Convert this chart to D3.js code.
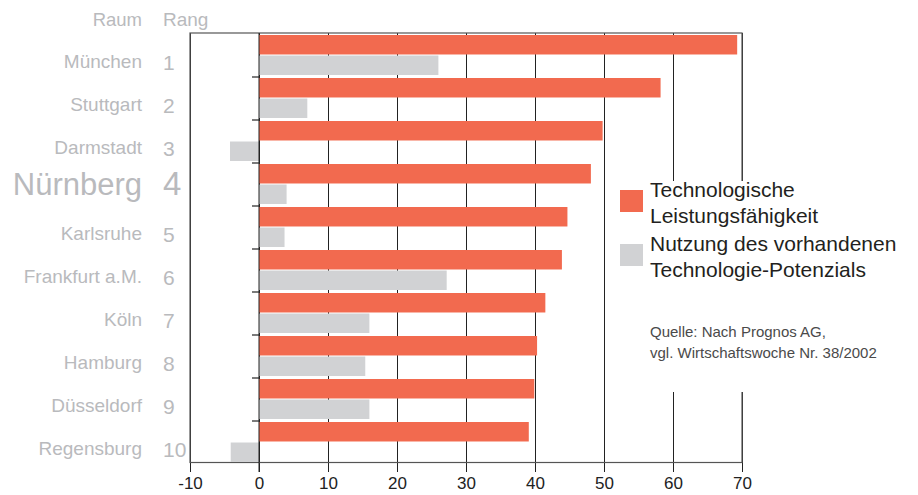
<!DOCTYPE html>
<html>
<head>
<meta charset="utf-8">
<script src="https://cdn.jsdelivr.net/npm/d3@7"></script>
<style>
  body { margin: 0; background: #fff; }
  text { font-family: "Liberation Sans", Arial, Helvetica, sans-serif; }
</style>
</head>
<body>
<script>
// data
const cities = ['München', 'Stuttgart', 'Darmstadt', 'Nürnberg', 'Karlsruhe',
    'Frankfurt a.M.', 'Köln', 'Hamburg', 'Düsseldorf', 'Regensburg'];
const ranks = ['1', '2', '3', '4', '5', '6', '7', '8', '9', '10'];
const leistung = [69.3, 58.2, 49.8, 48.1, 44.7, 43.9, 41.5, 40.3, 39.9, 39.1];
const nutzung = [26.0, 7.0, -4.2, 4.0, 3.7, 27.2, 16.0, 15.4, 16.0, -4.1];
const xTicks = [-10, 0, 10, 20, 30, 40, 50, 60, 70];
const seriesNames = ['Technologische Leistungsfähigkeit', 'Nutzung des vorhandenen Technologie-Potenzials'];
const highlight = 'Nürnberg';

const w = 918, h = 495;
const colors = ['#f26a4f', '#d1d2d4'];
const labelGray = '#b9babd';

let svg = d3.select('body').append('svg')
    .attr('width', w)
    .attr('height', h);

let x = d3.scaleLinear().domain([-10, 70]).range([190, 742]);
let y = d3.scaleBand().domain(cities).range([34, 464]);
let ySub = d3.scaleBand().domain([0, 1]).range([1, 41]).paddingInner(0.05);

const yTop = 33, yBottom = 462.5;

// grid lines through the x axis ticks
let xAxis = svg.append('g')
    .attr('transform', 'translate(0,472)')
    .call(d3.axisBottom(x).tickValues(xTicks).tickFormat(d => String(d))
        .tickSize(-(472 - yTop)).tickPadding(5));
xAxis.select('.domain').remove();
xAxis.selectAll('.tick line').attr('stroke', '#222').attr('stroke-width', 1);
xAxis.selectAll('.tick text')
    .attr('font-size', 17)
    .attr('fill', '#222')
    .attr('font-family', '"Liberation Sans", Arial, sans-serif');

// frame
svg.append('rect')
    .attr('x', x(-10)).attr('y', yTop)
    .attr('width', x(70) - x(-10)).attr('height', yBottom - yTop)
    .attr('fill', 'none').attr('stroke', '#555').attr('stroke-width', 1.2);

// white space behind the legend cuts the lines
svg.append('rect')
    .attr('x', 612).attr('y', 181)
    .attr('width', w - 612).attr('height', 392 - 181)
    .attr('fill', '#fff');

// bars
let rows = cities.map((c, i) => ({ city: c, vals: [leistung[i], nutzung[i]] }));
let groups = svg.append('g').selectAll('g').data(rows).enter().append('g')
    .attr('transform', d => 'translate(0,' + y(d.city) + ')');
groups.selectAll('rect').data(d => d.vals).enter().append('rect')
    .attr('x', d => x(Math.min(0, d)))
    .attr('y', (d, i) => ySub(i))
    .attr('width', d => Math.abs(x(d) - x(0)))
    .attr('height', ySub.bandwidth())
    .attr('fill', (d, i) => colors[i]);

// small ticks on the zero line between groups
svg.append('g').selectAll('line').data(cities.slice(1)).enter().append('line')
    .attr('x1', x(0) - 7).attr('x2', x(0))
    .attr('y1', d => y(d)).attr('y2', d => y(d))
    .attr('stroke', '#222').attr('stroke-width', 1.2);

// zero line on top
svg.append('line')
    .attr('x1', x(0)).attr('x2', x(0)).attr('y1', yTop).attr('y2', 472)
    .attr('stroke', '#222').attr('stroke-width', 1);

// row labels
let labels = svg.append('g');
labels.selectAll('text.city').data(cities).enter().append('text')
    .attr('class', 'city')
    .attr('x', 142)
    .attr('y', d => y(d) + y.bandwidth() / 2 + (d === highlight ? 10.5 : 12))
    .attr('text-anchor', 'end')
    .attr('font-size', d => d === highlight ? 31 : 19)
    .attr('fill', labelGray)
    .text(d => d);
labels.selectAll('text.rank').data(ranks).enter().append('text')
    .attr('class', 'rank')
    .attr('x', 163)
    .attr('y', (d, i) => y(cities[i]) + y.bandwidth() / 2 + (cities[i] === highlight ? 10.5 : 14))
    .attr('font-size', (d, i) => cities[i] === highlight ? 33 : 21)
    .attr('fill', labelGray)
    .text(d => d);

// column heads
svg.append('text').attr('x', 142).attr('y', 26).attr('text-anchor', 'end')
    .attr('font-size', 18.5).attr('fill', labelGray).text('Raum');
svg.append('text').attr('x', 163).attr('y', 26)
    .attr('font-size', 19).attr('fill', labelGray).text('Rang');

// legend
let legendLines = [['Technologische', 'Leistungsfähigkeit'], ['Nutzung des vorhandenen', 'Technologie-Potenzials']];
let legend = svg.append('g').selectAll('g').data(seriesNames).enter().append('g')
    .attr('transform', (d, i) => 'translate(620,' + (190 + i * 54) + ')');
legend.append('rect')
    .attr('width', 23).attr('height', 22)
    .attr('fill', (d, i) => colors[i]);
legend.each(function (d, i) {
    d3.select(this).selectAll('text').data(legendLines[i]).enter().append('text')
        .attr('x', 30)
        .attr('y', (t, j) => 7 + j * 26)
        .attr('font-size', 21)
        .attr('fill', '#231f20')
        .text(t => t);
});

// source
let source = ['Quelle: Nach Prognos AG,', 'vgl. Wirtschaftswoche Nr. 38/2002'];
svg.append('g').selectAll('text').data(source).enter().append('text')
    .attr('x', 650)
    .attr('y', (d, i) => 337 + i * 21)
    .attr('font-size', 15)
    .attr('fill', '#4a4a4a')
    .text(d => d);
</script>
</body>
</html>
